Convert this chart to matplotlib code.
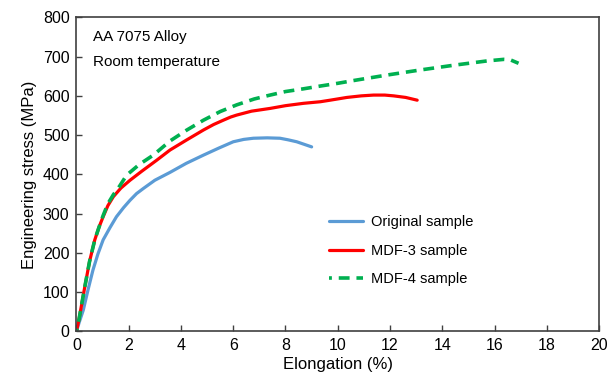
import matplotlib
matplotlib.use('Agg')
from matplotlib import pyplot as plt

plt.rcParams['font.family'] = ['Liberation Sans', 'DejaVu Sans']

# Original sample
orig_x = [0, 0.1, 0.26, 0.45, 0.63, 0.82, 1.02, 1.28, 1.53, 1.8, 2.05, 2.3, 2.56, 3.0, 3.58, 4.2, 4.86, 5.45, 6.0, 6.4, 6.77, 7.3, 7.79, 8.1, 8.43, 9.0]
orig_y = [0, 22, 54, 108, 156, 197, 233, 264, 292, 315, 334, 351, 364, 385, 405, 428, 449, 467, 483, 489, 492, 493, 492, 488, 483, 470]

# MDF-3 sample
mdf3_x = [0, 0.1, 0.32, 0.5, 0.7, 0.86, 1.02, 1.2, 1.41, 1.7, 2.05, 2.5, 3.07, 3.58, 4.2, 4.86, 5.25, 5.62, 5.9, 6.13, 6.7, 7.41, 8.0, 8.69, 9.33, 9.71, 10.35, 10.9, 11.37, 11.8, 12.14, 12.6, 13.04]
mdf3_y = [0, 32, 114, 178, 233, 265, 292, 320, 343, 365, 385, 408, 436, 462, 487, 513, 527, 538, 546, 551, 561, 568, 575, 581, 585, 589, 596, 600, 602, 602, 600, 596, 589]

# MDF-4 sample
mdf4_x = [0, 0.1, 0.32, 0.5, 0.7, 0.86, 1.02, 1.2, 1.41, 1.65, 1.92, 2.4, 2.94, 3.58, 4.2, 4.86, 5.5, 6.13, 6.8, 7.41, 8.0, 8.69, 9.33, 10.0, 10.6, 11.88, 13.16, 14.43, 15.71, 16.35, 16.6, 16.92]
mdf4_y = [0, 32, 114, 178, 233, 265, 295, 325, 348, 370, 398, 425, 449, 485, 512, 538, 560, 577, 592, 602, 611, 618, 625, 632, 639, 653, 666, 678, 689, 693, 692, 683]

fig = plt.figure(figsize=(6.09, 3.83), dpi=100)
ax = fig.add_axes([0.1256, 0.135, 0.858, 0.8196])

ax.plot(orig_x, orig_y, color='#5b9bd5', lw=2.3, label='Original sample', solid_capstyle='round')
ax.plot(mdf3_x, mdf3_y, color='#ff0000', lw=2.3, label='MDF-3 sample', solid_capstyle='round')
ax.plot(mdf4_x, mdf4_y, color='#00b050', lw=2.6, ls=(2.2, (3, 1.9)), label='MDF-4 sample')

ax.set_xlim(0, 20)
ax.set_ylim(0, 800)
ax.set_xticks(range(0, 21, 2))
ax.set_yticks(range(0, 801, 100))
ax.tick_params(direction='in', length=4, width=1, colors='#404040', labelcolor='black', labelsize=11.5, pad=5)
for s in ax.spines.values():
    s.set_color('#404040')
    s.set_linewidth(1.2)

ax.set_xlabel('Elongation (%)', fontsize=12, labelpad=3)
ax.set_ylabel('Engineering stress (MPa)', fontsize=12, labelpad=4)

ax.text(0.0316, 0.9376, 'AA 7075 Alloy', transform=ax.transAxes, fontsize=11, va='center')
ax.text(0.0316, 0.858, 'Room temperature', transform=ax.transAxes, fontsize=11, va='center')

ax.legend(loc='upper left', bbox_to_anchor=(0.4585, 0.412), frameon=False, fontsize=10.5,
          handlelength=2.3, labelspacing=1.0, handletextpad=0.6)

plt.savefig('out.png', dpi=100)
plt.close(fig)
